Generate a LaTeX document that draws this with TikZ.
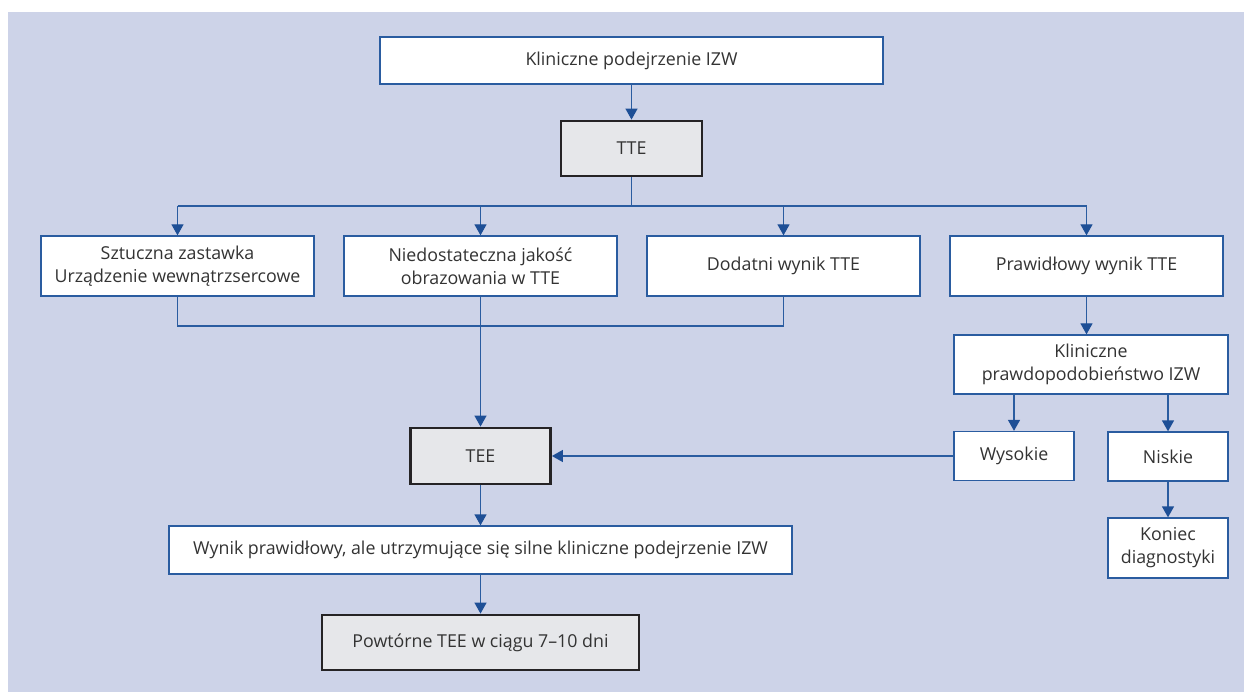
\documentclass[tikz,border=0pt]{standalone}
\usepackage{fontspec}
\setmainfont{Open Sans}
\usetikzlibrary{arrows.meta}
\definecolor{bgc}{HTML}{CDD3E8}
\definecolor{lnc}{HTML}{2A5CA0}
\definecolor{tipc}{HTML}{1E4F96}
\definecolor{txt}{HTML}{333333}
\definecolor{grayf}{HTML}{E6E7EA}
\definecolor{darkb}{HTML}{252325}
\begin{document}
\begin{tikzpicture}[x=1pt,y=-1pt,
  every node/.style={font=\fontsize{17.8}{23}\selectfont, text=txt, align=center, inner sep=0pt},
  wbox/.style={draw=lnc, line width=1.3pt, fill=white},
  gbox/.style={draw=darkb, line width=2.8pt, fill=grayf},
  conn/.style={draw=lnc, line width=1.3pt},
  arr/.style={conn, -{Triangle[width=12pt,length=11pt,color=tipc]}}]
\useasboundingbox (0,0) rectangle (1244,692);
\fill[bgc] (8,12) rectangle (1244,692);

\node[wbox, minimum width=503pt, minimum height=47pt] (k1) at (631.5,60.5) {Kliniczne podejrzenie IZW};
\node[gbox, minimum width=141pt, minimum height=55pt] (tte) at (631.5,148.5) {TTE};
\node[wbox, minimum width=273pt, minimum height=60pt] (A) at (177.5,266) {Sztuczna zastawka\\Urządzenie wewnątrzsercowe};
\node[wbox, minimum width=273pt, minimum height=60pt] (B) at (480.5,266) {Niedostateczna jakość\\obrazowania w TTE};
\node[wbox, minimum width=273pt, minimum height=60pt] (C) at (783.5,266) {Dodatni wynik TTE};
\node[wbox, minimum width=273pt, minimum height=60pt] (D) at (1086.5,266) {Prawidłowy wynik TTE};
\node[wbox, minimum width=274pt, minimum height=59pt] (prob) at (1091,364.5) {Kliniczne\\prawdopodobieństwo IZW};
\node[wbox, minimum width=120pt, minimum height=49pt] (wys) at (1014,456) {Wysokie};
\node[wbox, minimum width=120pt, minimum height=49pt] (nis) at (1168,456.5) {Niskie};
\node[wbox, minimum width=120pt, minimum height=60pt] (kon) at (1168,548) {Koniec\\diagnostyki};
\node[gbox, minimum width=140pt, minimum height=56pt] (tee) at (480.5,456) {TEE};
\node[wbox, minimum width=623pt, minimum height=48pt] (wyn) at (480.5,550) {Wynik prawidłowy, ale utrzymujące się silne kliniczne podejrzenie IZW};
\node[gbox, minimum width=317pt, minimum height=55pt] (pow) at (480.5,642.5) {Powtórne TEE w ciągu 7–10 dni};

\coordinate (bus) at (631.5,206);
\coordinate (join) at (0,326);

\draw[arr] (k1.south) -- (tte.north);
\draw[conn] (tte.south) -- (bus);
\draw[conn] (A.north |- bus) -- (D.north |- bus);
\draw[arr] (A.north |- bus) -- (A.north);
\draw[arr] (B.north |- bus) -- (B.north);
\draw[arr] (C.north |- bus) -- (C.north);
\draw[arr] (D.north |- bus) -- (D.north);
\draw[conn] (A.south) -- (A.south |- join) -- (C.south |- join) -- (C.south);
\draw[arr] (B.south) -- (tee.north);
\draw[arr] (D.south) -- (D.south |- prob.north);
\draw[arr] (prob.south -| wys.north) -- (wys.north);
\draw[arr] (prob.south -| nis.north) -- (nis.north);
\draw[arr] (nis.south) -- (kon.north);
\draw[arr] (wys.west) -- (wys.west -| tee.east);
\draw[arr] (tee.south) -- (wyn.north);
\draw[arr] (wyn.south) -- (pow.north);
\end{tikzpicture}
\end{document}
